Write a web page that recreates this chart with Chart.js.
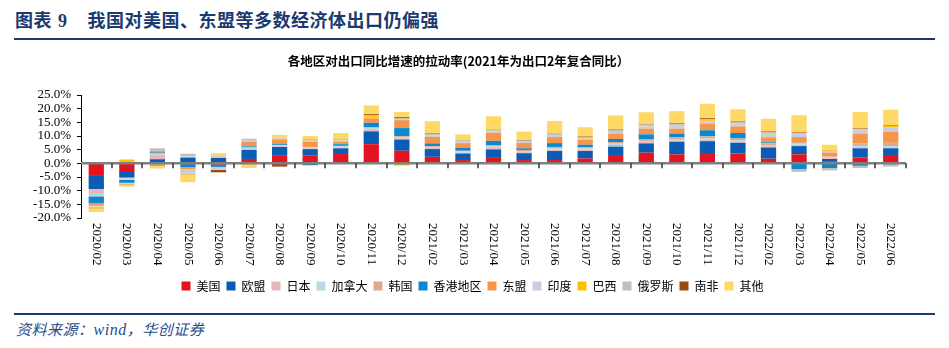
<!DOCTYPE html>
<html>
<head>
<meta charset="utf-8">
<script src="https://cdn.jsdelivr.net/npm/chart.js@4.4.1/dist/chart.umd.min.js"></script>
<style>
  body { margin: 0; width: 949px; height: 348px; background: #fff; position: relative; overflow: hidden; }
  #head { position: absolute; left: 15px; top: 6px; font: bold 18px "Noto Sans CJK SC"; color: #1c3a6e; letter-spacing: 0.5px; }
  #head .num { font-family: "Liberation Serif"; margin-left: 6px; margin-right: 20px; }
  .rule { position: absolute; left: 14px; width: 921px; background: #1c3a6e; }
  #wrap { position: absolute; left: 0; top: 44px; }
  #src { position: absolute; left: 16px; top: 318px; font: italic 15px "Noto Sans CJK SC"; color: #2a4d8a; letter-spacing: 0.5px; }
  #src .en { font-family: "Liberation Serif"; font-size: 16px; }
</style>
</head>
<body>
<div id="head">图表<span class="num">9</span>我国对美国、东盟等多数经济体出口仍偏强</div>
<div class="rule" style="top:38px;height:2px"></div>
<div id="wrap"><canvas id="c" width="949" height="266"></canvas></div>
<div class="rule" style="top:313px;height:2px"></div>
<div id="src">资料来源：<span class="en">wind</span>，华创证券</div>
<script>
// 横轴月份
const months = ['2020/02','2020/03','2020/04','2020/05','2020/06','2020/07','2020/08','2020/09','2020/10','2020/11','2020/12',
  '2021/02','2021/03','2021/04','2021/05','2021/06','2021/07','2021/08','2021/09','2021/10','2021/11','2021/12',
  '2022/02','2022/03','2022/04','2022/05','2022/06'];

// 各地区拉动率 (%)
const usa    = [-4.3,-2.8,-0.3,0.3,-0.5,1.6,3.0,2.8,3.4,7.0,4.6,2.4,1.2,2.0,1.2,1.2,1.8,2.7,3.9,3.3,3.4,3.6,1.7,3.3,0.8,2.1,2.7];
const eu     = [-5.1,-2.4,1.5,1.8,2.0,3.3,3.0,2.4,2.1,4.7,4.1,2.8,2.4,3.1,2.5,3.3,2.7,3.4,3.4,4.6,4.7,3.9,4.1,3.0,0.8,3.4,2.8];
const japan  = [-1.8,-0.3,1.6,0.2,0.1,0.3,0.2,0.3,0.4,0.5,0.5,0.4,0.3,0.6,0.4,0.6,0.5,0.6,0.5,0.5,0.6,0.5,0.5,0.5,0.3,0.4,0.4];
const canada = [-0.5,-0.4,0.2,0.2,0.3,0.4,0.3,0.3,0.3,0.7,0.4,0.4,0.4,0.4,0.4,0.4,0.4,0.5,0.4,0.5,0.5,0.5,0.4,0.4,0.3,0.5,0.4];
const korea  = [-0.4,-0.2,0.4,0.1,0.2,0.3,0.2,0.2,0.2,0.3,0.3,0.3,0.3,0.5,0.4,0.5,0.5,0.6,0.5,0.6,0.7,0.6,0.6,0.6,0.3,0.9,1.2];
const hk     = [-2.4,-1.0,0.3,-1.4,-0.8,0.3,0.3,-0.7,0.6,1.6,3.0,1.0,1.0,1.6,0.6,1.4,0.9,1.1,1.9,1.4,2.2,2.0,0.4,-2.1,-1.7,-0.9,-0.2];
const asean  = [-1.0,-0.2,0.6,-0.7,-0.2,1.8,1.8,1.9,1.0,1.7,2.9,2.4,1.8,3.0,2.0,2.2,1.8,2.0,2.1,1.8,2.4,2.4,1.8,1.8,1.4,3.6,4.0];
const india  = [-0.3,-0.2,-0.3,-1.6,-0.8,0.3,0.2,0.3,0.3,0.4,0.4,0.4,0.3,0.5,0.3,0.5,0.4,0.6,0.8,0.9,0.9,0.8,1.0,1.2,0.6,1.4,1.6];
const brazil = [-0.2,1.4,-0.1,-0.3,-0.1,0.0,0.1,0.1,0.1,0.4,-0.8,0.2,0.3,0.2,0.2,0.3,0.2,0.3,0.3,0.3,0.4,0.3,0.4,0.3,0.2,0.3,0.6];
const russia = [-0.3,-0.1,0.9,0.9,0.1,0.7,0.2,0.3,0.4,0.4,0.4,0.5,0.3,0.5,0.3,0.4,0.4,0.5,0.4,0.4,0.4,0.5,0.6,-1.0,-0.9,-0.8,-1.0];
const safrica= [-0.1,-0.1,-0.2,-0.1,-0.9,-0.2,-1.2,0.1,0.1,0.3,0.3,0.2,0.1,0.1,0.2,0.1,0.2,0.2,0.2,0.3,0.3,0.2,0.2,0.2,0.1,0.2,0.2];
const others = [-1.4,-0.8,-1.0,-2.8,1.0,-1.5,1.1,1.3,2.2,3.2,1.9,4.4,2.2,4.7,3.1,4.6,3.4,5.0,4.3,4.5,5.3,4.5,4.6,6.3,2.0,6.0,5.7];

const yTicks = [-20, -15, -10, -5, 0, 5, 10, 15, 20, 25];

const series = [
  ['美国', usa, '#e3141f'],
  ['欧盟', eu, '#0b5cb5'],
  ['日本', japan, '#e7b8b9'],
  ['加拿大', canada, '#b4dbe7'],
  ['韩国', korea, '#dcab8c'],
  ['香港地区', hk, '#0a89d1'],
  ['东盟', asean, '#f7964a'],
  ['印度', india, '#c8cde3'],
  ['巴西', brazil, '#ffc000'],
  ['俄罗斯', russia, '#bfbfbf'],
  ['南非', safrica, '#9c4a10'],
  ['其他', others, '#ffd966']
];

// 零轴、分类刻度与竖排月份标签
const axisPlugin = {
  id: 'axisPlugin',
  afterLayout(chart) {
    // 图例整体右移，和原图居中位置一致
    chart.legend.left += 14;
    chart.legend.right += 14;
  },
  afterDatasetsDraw(chart) {
    const ctx = chart.ctx;
    const x = chart.scales.x, y = chart.scales.y;
    const y0 = y.getPixelForValue(0);
    const area = chart.chartArea;
    ctx.save();
    ctx.strokeStyle = '#7f7f7f';
    ctx.lineWidth = 2.5;
    ctx.beginPath();
    ctx.moveTo(area.left, y0);
    ctx.lineTo(area.right, y0);
    ctx.stroke();
    ctx.strokeStyle = '#333';
    ctx.lineWidth = 1.5;
    const w = (area.right - area.left) / months.length;
    for (let i = 1; i <= months.length; i++) {
      const px = Math.round(area.left + i * w);
      ctx.beginPath();
      ctx.moveTo(px, y0);
      ctx.lineTo(px, y0 + 5);
      ctx.stroke();
    }
    ctx.fillStyle = '#000';
    ctx.font = '13px "Liberation Serif"';
    ctx.textAlign = 'left';
    ctx.textBaseline = 'middle';
    months.forEach((m, i) => {
      const px = x.getPixelForValue(i);
      ctx.save();
      ctx.translate(px, area.bottom + 5);
      ctx.rotate(Math.PI / 2);
      ctx.fillText(m, 0, 0);
      ctx.restore();
    });
    ctx.restore();
  }
};

new Chart(document.getElementById('c'), {
  type: 'bar',
  data: {
    labels: months,
    datasets: series.map(s => ({
      label: s[0],
      data: s[1],
      backgroundColor: s[2],
      borderWidth: 0,
      categoryPercentage: 1,
      barPercentage: 0.5
    }))
  },
  options: {
    responsive: false,
    animation: false,
    devicePixelRatio: 1,
    layout: { padding: { left: 11, right: 43, top: 0, bottom: 8 } },
    plugins: {
      title: {
        display: true,
        text: '各地区对出口同比增速的拉动率(2021年为出口2年复合同比）',
        color: '#000',
        font: { family: 'Noto Sans CJK SC', size: 12.5, weight: 'bold' },
        padding: { top: 10, bottom: 26 }
      },
      legend: {
        position: 'bottom',
        labels: {
          boxWidth: 9, boxHeight: 9, padding: 6, color: '#000',
          font: { family: 'Noto Sans CJK SC', size: 12 }
        }
      },
      tooltip: { enabled: false }
    },
    scales: {
      x: {
        stacked: true,
        ticks: { display: false },
        grid: { display: false },
        border: { display: false },
        afterFit: s => { s.height = 56; }
      },
      y: {
        stacked: true,
        min: -20, max: 25,
        afterBuildTicks: s => { s.ticks = yTicks.map(v => ({ value: v })); },
        ticks: {
          autoSkip: false,
          callback: v => v.toFixed(1) + '%',
          color: '#000',
          font: { family: 'Liberation Serif', size: 13 },
          padding: 6
        },
        grid: { drawOnChartArea: false, tickLength: 4, color: '#000' },
        border: { color: '#000' },
        afterFit: s => { s.width = 70; }
      }
    }
  },
  plugins: [axisPlugin]
});
</script>
</body>
</html>
